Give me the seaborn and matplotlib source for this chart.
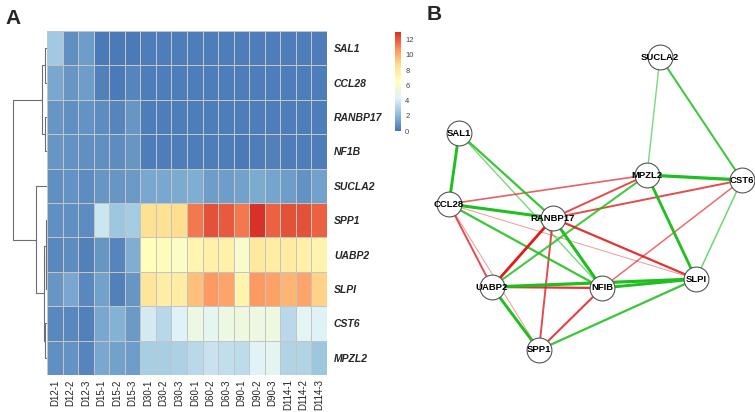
import numpy as np
import pandas as pd
import seaborn as sns
import matplotlib.pyplot as plt
from matplotlib.colors import LinearSegmentedColormap, to_rgba

sns.set_style("white")
plt.rcParams['font.family'] = ['Liberation Sans', 'DejaVu Sans']

# ---- data: heatmap (panel A) ----
samples = ["D12-1", "D12-2", "D12-3", "D15-1", "D15-2", "D15-3",
           "D30-1", "D30-2", "D30-3", "D60-1", "D60-2", "D60-3",
           "D90-1", "D90-2", "D90-3", "D114-1", "D114-2", "D114-3"]
genes = ["SAL1", "CCL28", "RANBP17", "NF1B", "SUCLA2",
         "SPP1", "UABP2", "SLPI", "CST6", "MPZL2"]

sal1 = [2.6, 0.8, 1.2, 0.2, 0.2, 0.2, 0.3, 0.3, 0.3, 0.3, 0.3, 0.3, 0.3, 0.3, 0.3, 0.3, 0.3, 0.3]
ccl28 = [1.5, 1.0, 1.2, 0.4, 0.2, 0.5, 0.3, 0.3, 0.3, 0.3, 0.3, 0.3, 0.3, 0.3, 0.3, 0.3, 0.3, 0.3]
ranbp17 = [1.0, 0.8, 0.9, 0.7, 0.5, 1.0, 0.3, 0.3, 0.3, 0.3, 0.3, 0.3, 0.3, 0.3, 0.3, 0.3, 0.3, 0.3]
nf1b = [1.0, 0.9, 0.8, 0.8, 0.7, 1.0, 0.3, 0.3, 0.3, 0.3, 0.3, 0.3, 0.2, 0.3, 0.4, 0.3, 0.3, 0.3]
sucla2 = [0.8, 0.9, 0.7, 1.0, 1.0, 1.1, 1.5, 1.5, 1.6, 1.7, 1.2, 1.2, 1.3, 1.6, 1.4, 1.2, 0.9, 1.3]
spp1 = [0.8, 0.8, 0.7, 3.8, 2.5, 2.7, 8.5, 8.5, 8.7, 11.3, 12.2, 12.0, 11.3, 12.9, 11.8, 12.2, 12.2, 11.8]
uabp2 = [0.6, 0.7, 0.4, 1.0, 0.5, 1.7, 6.6, 6.8, 6.2, 7.2, 7.5, 7.5, 6.0, 8.0, 7.7, 7.8, 7.5, 7.3]
slpi = [1.0, 1.5, 0.6, 1.3, 0.4, 1.0, 8.3, 7.7, 7.8, 9.5, 10.5, 10.2, 7.3, 10.5, 10.3, 9.8, 10.2, 9.0]
cst6 = [0.6, 0.6, 0.4, 1.5, 1.8, 1.1, 4.0, 3.2, 4.3, 5.2, 4.7, 5.2, 5.3, 5.2, 5.3, 3.3, 4.5, 4.3]
mpzl2 = [0.8, 0.9, 0.5, 1.5, 1.3, 1.2, 2.8, 2.8, 2.9, 3.3, 3.7, 3.5, 3.4, 4.4, 4.6, 3.0, 3.0, 2.5]

# row dendrogram: (child a, child b, merge height)
merges = [("SAL1", "CCL28", 2.0),
          ("RANBP17", "NF1B", 2.0),
          ("UABP2", "SLPI", 1.0),
          ("SPP1", "m3", 1.5),
          ("CST6", "MPZL2", 2.0),
          ("m4", "m5", 3.0),
          ("m1", "m2", 5.0),
          ("SUCLA2", "m6", 11.0),
          ("m7", "m8", 34.0)]

# ---- data: correlation network (panel B) ----
nodes = ["SUCLA2", "SAL1", "MPZL2", "CST6", "CCL28",
         "RANBP17", "SLPI", "UABP2", "NFIB", "SPP1"]
node_x = [660, 459, 647, 742, 449, 553, 696, 492, 602, 539]
node_y = [57, 133, 175, 180, 204, 218, 279, 287, 288, 350]

edges = [("SUCLA2", "MPZL2", 0.3), ("SUCLA2", "CST6", 0.55),
         ("SAL1", "CCL28", 0.85), ("SAL1", "RANBP17", 0.6),
         ("SAL1", "NFIB", 0.3), ("CCL28", "RANBP17", 0.9),
         ("CCL28", "NFIB", 0.6), ("MPZL2", "CST6", 0.95),
         ("MPZL2", "SLPI", 0.8), ("MPZL2", "UABP2", 0.55),
         ("CST6", "SLPI", 0.35), ("UABP2", "SLPI", 0.95),
         ("NFIB", "SLPI", 0.85), ("UABP2", "SPP1", 0.85),
         ("SPP1", "SLPI", 0.6), ("RANBP17", "NFIB", 0.9),
         ("CCL28", "MPZL2", -0.4), ("RANBP17", "MPZL2", -0.5),
         ("RANBP17", "CST6", -0.5), ("CCL28", "UABP2", -0.5),
         ("CCL28", "SPP1", -0.15), ("CCL28", "SLPI", -0.15),
         ("RANBP17", "UABP2", -0.8), ("RANBP17", "SPP1", -0.5),
         ("RANBP17", "SLPI", -0.6), ("UABP2", "NFIB", -0.6),
         ("NFIB", "SLPI", -0.2), ("NFIB", "CST6", -0.35),
         ("NFIB", "SPP1", -0.55)]


def draw_dendrogram(ax, leaves, merges):
    pos = {g: (0.0, i + 0.5) for i, g in enumerate(leaves)}
    for k, (a, b, h) in enumerate(merges):
        xa, ya = pos[a]
        xb, yb = pos[b]
        ax.plot([xa, h, h, xb], [ya, ya, yb, yb], color="#6e6e6e", lw=0.8)
        pos["m%d" % (k + 1)] = (h, (ya + yb) / 2)


W, H = 755, 412
fig = plt.figure(figsize=(W / 100, H / 100), dpi=100)


def px_axes(x0, y0, x1, y1):
    return fig.add_axes([x0 / W, 1 - y1 / H, (x1 - x0) / W, (y1 - y0) / H])


data = pd.DataFrame([sal1, ccl28, ranbp17, nf1b, sucla2, spp1, uabp2, slpi, cst6, mpzl2],
                    index=genes, columns=samples)

cmap = LinearSegmentedColormap.from_list(
    "rdylbu_r", ["#4575B4", "#91BFDB", "#E0F3F8", "#FFFFBF", "#FEE090", "#FC8D59", "#D73027"])

ax_hm = px_axes(47, 31, 327, 375)
ax_cb = px_axes(395, 32, 401, 131)
sns.heatmap(data, ax=ax_hm, cmap=cmap, vmin=0, vmax=13, linewidths=0.5,
            linecolor="#c4c4c4", cbar_ax=ax_cb, cbar_kws={"ticks": range(0, 13, 2)})
ax_hm.yaxis.tick_right()
ax_hm.tick_params(axis="y", length=0, pad=5)
ax_hm.tick_params(axis="x", length=0, pad=3)
ax_hm.set_yticklabels(genes, rotation=0, fontsize=7.5, fontweight="bold", style="italic")
ax_hm.set_xticklabels(samples, rotation=90, fontsize=7, color="#222222")
ax_hm.set_xlabel("")
ax_hm.set_ylabel("")
ax_cb.tick_params(length=0, labelsize=5.5, colors="#444444", pad=3)
ax_hm.collections[0].colorbar.outline.set_visible(False)

ax_dg = px_axes(10, 31, 47, 375)
draw_dendrogram(ax_dg, genes, merges)
ax_dg.set_xlim(37, 0)
ax_dg.set_ylim(len(genes), 0)
ax_dg.axis("off")

# network
ax_net = px_axes(420, 0, 755, 412)
ax_net.set_xlim(420, 755)
ax_net.set_ylim(412, 0)
ax_net.axis("off")
npos = {n: (x, y) for n, x, y in zip(nodes, node_x, node_y)}
for a, b, w in sorted(edges, key=lambda e: abs(e[2])):
    base = "#1FBF1F" if w > 0 else "#E01A1A"
    alpha = 0.3 + 0.7 * min(1.0, abs(w) * 1.4)
    ax_net.plot([npos[a][0], npos[b][0]], [npos[a][1], npos[b][1]],
                color=to_rgba(base, alpha), lw=0.4 + 2.0 * abs(w), zorder=1,
                solid_capstyle="butt")
sns.scatterplot(x=node_x, y=node_y, ax=ax_net, s=320, color="white",
                edgecolor="#555555", linewidth=0.8, zorder=3, legend=False)
for n, x, y in zip(nodes, node_x, node_y):
    ax_net.text(x, y, n, ha="center", va="center", fontsize=6.8,
                fontweight="bold", color="black", zorder=4)

fig.text(5 / W, 1 - 18 / H, "A", fontsize=15, fontweight="bold", va="center")
fig.text(427 / W, 1 - 14 / H, "B", fontsize=15, fontweight="bold", va="center")

fig.savefig("out.png", dpi=100)
